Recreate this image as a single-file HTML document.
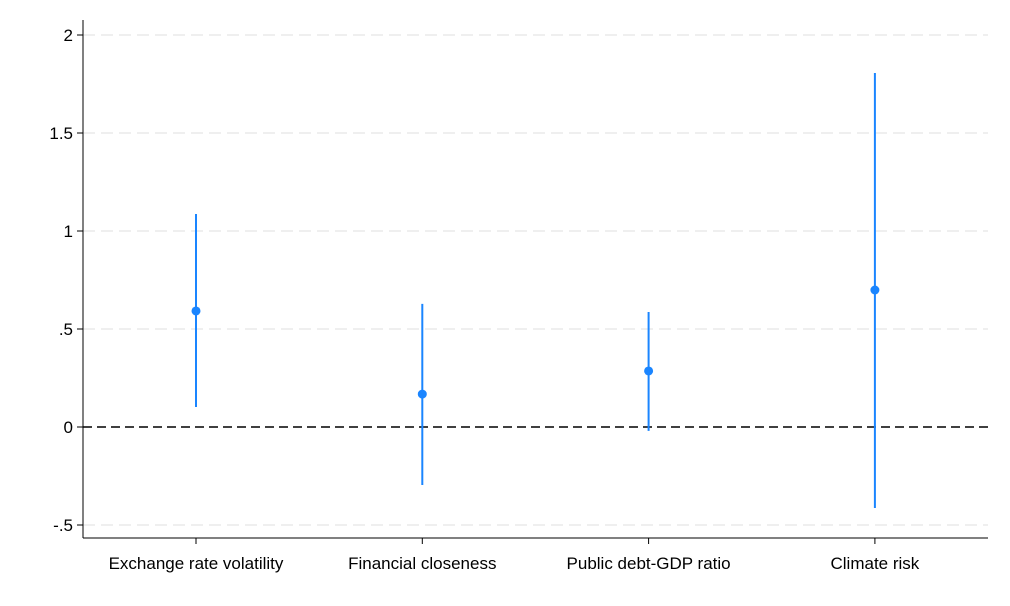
<!DOCTYPE html>
<html><head><meta charset="utf-8">
<style>
body{margin:0;background:#fff;}
svg{display:block;font-family:"Liberation Sans",Arial,sans-serif;}
</style></head>
<body>
<svg id="chart" width="1010" height="606" viewBox="0 0 1010 606">
<rect width="1010" height="606" fill="#fff"/>
<g id="grid"></g>
<g id="axes"></g>
<g id="marks"></g>
</svg>
<script>
const categories = ["Exchange rate volatility","Financial closeness","Public debt-GDP ratio","Climate risk"];
const estimates = [0.592, 0.168, 0.286, 0.699];
const lowerCI = [0.102, -0.296, -0.02, -0.413];
const upperCI = [1.087, 0.628, 0.587, 1.806];
const yTicks = [-0.5, 0, 0.5, 1, 1.5, 2];
const yTickLabels = ["-.5","0",".5","1","1.5","2"];

const NS="http://www.w3.org/2000/svg";
const pL=83, pR=988, pT=20, pB=538;
function yScale(v){ return 427 - v*196; }
function xScale(i){ return 196 + i*226.3; }
function mk(tag, attrs, parent){
  const e=document.createElementNS(NS,tag);
  for(const k in attrs) e.setAttribute(k, attrs[k]);
  parent.appendChild(e); return e;
}
const gridG=document.getElementById('grid'), axesG=document.getElementById('axes'), marksG=document.getElementById('marks');

yTicks.forEach((t,i)=>{
  const y=yScale(t);
  if(t!==0){
    const g=mk('line',{x1:pL,x2:pR,y1:y,y2:y,stroke:'#eaeaea','stroke-width':1.5,'stroke-dasharray':'12,6'},gridG);
    
    
  }
  const tk=mk('line',{x1:pL-6,x2:pL,y1:y,y2:y,stroke:'#000','stroke-width':1},axesG);
  
  
  const tx=mk('text',{x:pL-10,y:y+6,'text-anchor':'end','font-size':17,fill:'#000'},axesG);
  tx.textContent=yTickLabels[i];
  
  
});
const ya=mk('line',{x1:pL,x2:pL,y1:pT,y2:pB,stroke:'#000','stroke-width':1},axesG);


const xa=mk('line',{x1:pL,x2:pR,y1:pB,y2:pB,stroke:'#000','stroke-width':1},axesG);



const zl=mk('line',{x1:pL,x2:pR,y1:yScale(0),y2:yScale(0),stroke:'#000','stroke-width':1.5,'stroke-dasharray':'9,5'},marksG);



categories.forEach((c,i)=>{
  const x=xScale(i);
  const tk=mk('line',{x1:x,x2:x,y1:pB,y2:pB+6,stroke:'#000','stroke-width':1},axesG);
  
  
  const tx=mk('text',{x:x,y:pB+31,'text-anchor':'middle','font-size':17,fill:'#000'},axesG);
  tx.textContent=c;
  
  
  const ci=mk('line',{x1:x,x2:x,y1:yScale(upperCI[i]),y2:yScale(lowerCI[i]),stroke:'#1a85ff','stroke-width':2},marksG);
  
  
  const pt=mk('circle',{cx:x,cy:yScale(estimates[i]),r:4.5,fill:'#1a85ff'},marksG);
  
  
});
</script>
</body></html>
